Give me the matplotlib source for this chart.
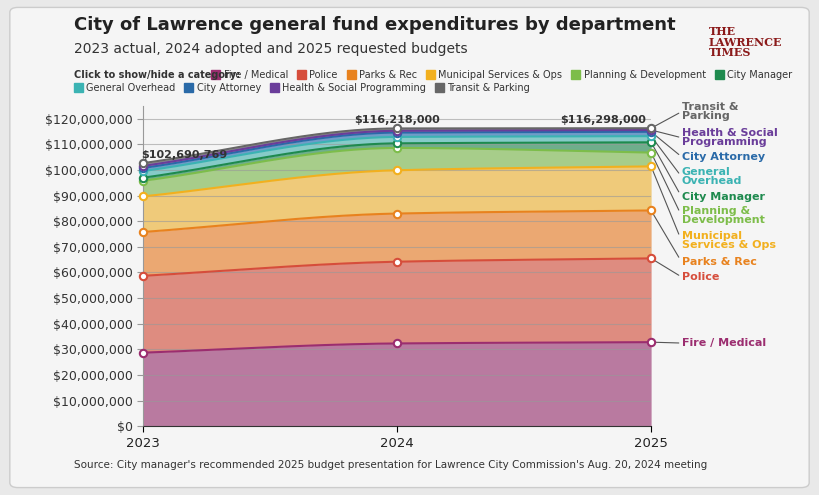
import matplotlib.pyplot as plt
import numpy as np
from matplotlib.patches import FancyBboxPatch

years = [2023, 2024, 2025]
categories = ["Fire / Medical", "Police", "Parks & Rec", "Municipal Services & Ops",
              "Planning & Development", "City Manager", "General Overhead",
              "City Attorney", "Health & Social Programming", "Transit & Parking"]
# cumulative tops in $M
cum_2023 = [28.7, 58.7, 75.8, 89.7, 95.8, 97.0, 99.6, 100.8, 101.6, 102.69]
cum_2024 = [32.3, 64.2, 83.0, 99.9, 108.6, 110.4, 112.9, 114.6, 115.3, 116.218]
cum_2025 = [32.8, 65.5, 84.2, 101.4, 106.8, 110.8, 113.2, 114.9, 115.6, 116.298]
totals = ["$102,690,769", "$116,218,000", "$116,298,000"]
line_colors = ["#9b2d6f", "#d64d3b", "#e8821e", "#f2b01e", "#7dbd4a", "#1e8a4e",
               "#3bb3b3", "#2a6aa8", "#6a3d9a", "#666666"]
fill_colors = ["#b97aa0", "#de8c80", "#eba872", "#efca7a", "#a7cd8a", "#6fae8c",
               "#86cbc8", "#6f9cc8", "#9d83bf", "#8f8f8f"]
label_px = [343, 277, 262, 241, 216, 197, 177, 157, 138, 112]
label_txt = ["Fire / Medical", "Police", "Parks & Rec", "Municipal\nServices & Ops",
             "Planning &\nDevelopment", "City Manager", "General\nOverhead",
             "City Attorney", "Health & Social\nProgramming", "Transit &\nParking"]


def monotone(x, y, xs):
    x = np.asarray(x, float); y = np.asarray(y, float)
    d = np.diff(y) / np.diff(x)
    m = np.zeros(len(x))
    m[0], m[-1] = d[0], d[-1]
    for i in range(1, len(x) - 1):
        m[i] = 0 if d[i-1] * d[i] <= 0 else 2 / (1/d[i-1] + 1/d[i])
    out = np.empty_like(xs)
    for j, t in enumerate(xs):
        i = min(np.searchsorted(x, t, side="right") - 1, len(x) - 2)
        h = x[i+1] - x[i]; s = (t - x[i]) / h
        out[j] = ((2*s**3 - 3*s**2 + 1)*y[i] + (s**3 - 2*s**2 + s)*h*m[i]
                  + (-2*s**3 + 3*s**2)*y[i+1] + (s**3 - s**2)*h*m[i+1])
    return out


fig = plt.figure(figsize=(8.19, 4.95), dpi=100)
fig.patch.set_facecolor("#e9e9e9")
card = FancyBboxPatch((0.012, 0.015), 0.976, 0.97, boxstyle="round,pad=0,rounding_size=0.01",
                      transform=fig.transFigure, facecolor="#f5f5f5",
                      edgecolor="#cccccc", lw=1, zorder=-10)
fig.patches.append(card)
ax = fig.add_axes([0.175, 0.139, 0.62, 0.647])
ax.set_facecolor("#f5f5f5")

xs = np.linspace(2023, 2025, 200)
data = np.array([cum_2023, cum_2024, cum_2025])
prev = np.zeros_like(xs)
for k in range(len(categories)):
    top = monotone(years, data[:, k], xs)
    ax.fill_between(xs, prev, top, color=fill_colors[k], lw=0, zorder=2)
    ax.plot(xs, top, color=line_colors[k], lw=1.5, zorder=3)
    ax.scatter(years, data[:, k], s=28, facecolor="white", edgecolor=line_colors[k],
               lw=1.5, zorder=5, clip_on=False)
    prev = top

ax.set_xlim(2023, 2025)
ax.set_ylim(0, 125)
ax.set_yticks(np.arange(0, 121, 10))
ax.set_yticklabels(["$0"] + [f"${v},000,000" for v in range(10, 121, 10)])
ax.set_xticks(years)
ax.set_xticklabels([str(y) for y in years])
ax.grid(axis="y", color="#999999", lw=0.8, alpha=0.6, zorder=4)
ax.set_axisbelow(False)
for s in ["top", "right"]:
    ax.spines[s].set_visible(False)
ax.spines["left"].set_color("#999999")
ax.spines["bottom"].set_color("#333333")
ax.tick_params(axis="y", length=4, color="#999999", labelsize=9, labelcolor="#333333")
ax.tick_params(axis="x", length=4, labelsize=9.5, labelcolor="#222222")

for x, t, v in zip(years, totals, data[:, -1]):
    ha = "left" if x == 2023 else ("right" if x == 2025 else "center")
    xo = -0.01 if x == 2023 else (-0.02 if x == 2025 else 0)
    ax.text(x + xo, v + 1.3, t, ha=ha, va="bottom",
            fontsize=8, fontweight="bold", color="#333333", zorder=6)

for k in range(len(categories)):
    ly = (426 - label_px[k]) / 2.558
    ax.annotate(label_txt[k], xy=(2025, data[2, k]), xytext=(2025.12, ly),
                textcoords="data", ha="left", va="center", fontsize=8,
                fontweight="bold", color=line_colors[k], linespacing=0.9,
                annotation_clip=False,
                arrowprops=dict(arrowstyle="-", color="#555555", lw=0.8,
                                shrinkA=0, shrinkB=0, relpos=(0, 0.5)))

fig.text(0.09, 0.94, "City of Lawrence general fund expenditures by department",
         fontsize=13, fontweight="bold", color="#222222")
fig.text(0.09, 0.893, "2023 actual, 2024 adopted and 2025 requested budgets",
         fontsize=10, color="#333333")
fig.text(0.865, 0.915, "THE\nLAWRENCE\nTIMES", fontsize=8, fontweight="bold",
         color="#8b1a1a", family="serif", linespacing=0.9, va="center")

# legend rows
fig.text(0.09, 0.849, "Click to show/hide a category:", fontsize=7,
         fontweight="bold", color="#333333", va="center")
fig.canvas.draw()
rows = [(0.849, 0, 6, 0.258), (0.823, 6, 10, 0.09)]
for ypos, a, b, x in rows:
    for k in range(a, b):
        fig.patches.append(plt.Rectangle((x, ypos - 0.009), 0.011, 0.018,
                                         transform=fig.transFigure,
                                         color=line_colors[k]))
        t = fig.text(x + 0.015, ypos, categories[k], fontsize=7, color="#333333",
                     va="center")
        fig.canvas.draw()
        bb = t.get_window_extent().transformed(fig.transFigure.inverted())
        x = bb.x1 + 0.011

fig.text(0.09, 0.055, "Source: City manager's recommended 2025 budget presentation for "
         "Lawrence City Commission's Aug. 20, 2024 meeting", fontsize=7.5, color="#333333")

fig.savefig("out.png", dpi=100, facecolor=fig.get_facecolor())
